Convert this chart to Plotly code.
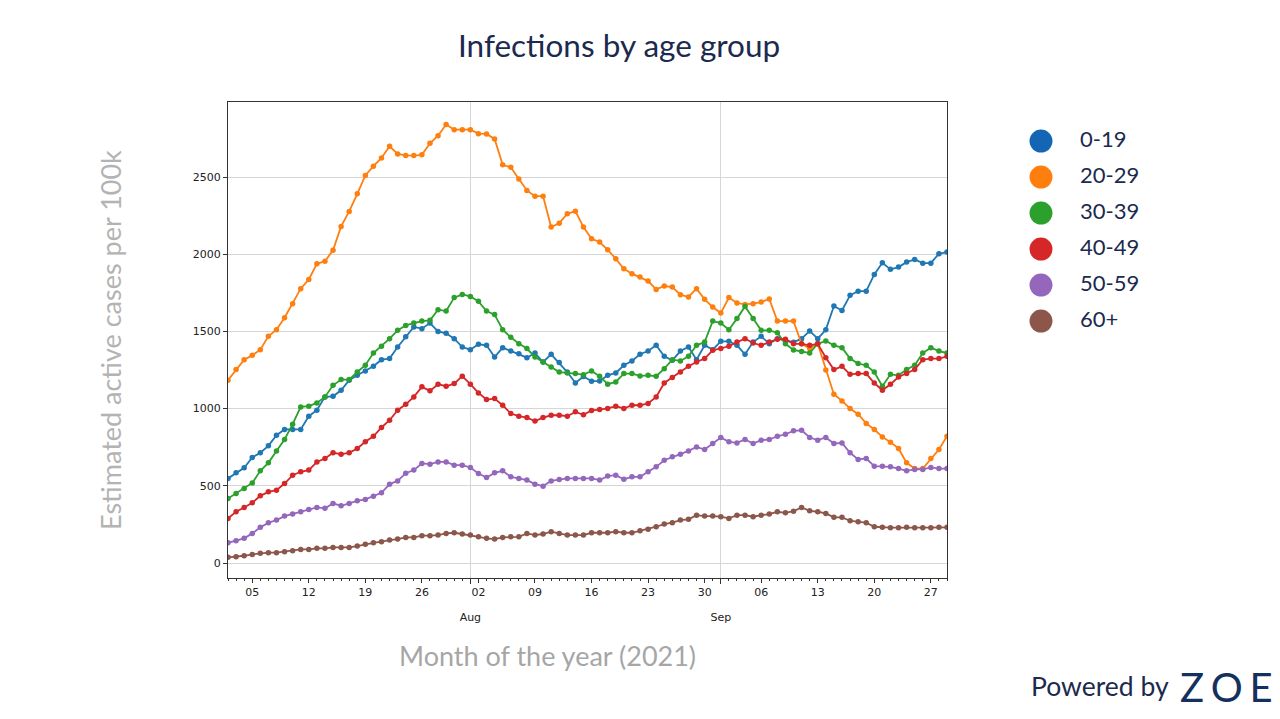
import pandas as pd
import plotly.graph_objects as go

# ---------------- data ----------------
start_date = "2021-07-02"
n_days = 90
dates = pd.date_range(start_date, periods=n_days, freq="D")

groups = ["0-19", "20-29", "30-39", "40-49", "50-59", "60+"]

age_0_19 = [548, 584, 617, 684, 714, 759, 828, 865, 865, 865,
            951, 990, 1076, 1080, 1119, 1184, 1216, 1244, 1274, 1317,
            1324, 1399, 1465, 1529, 1518, 1554, 1500, 1488, 1453, 1399,
            1382, 1417, 1410, 1334, 1395, 1373, 1356, 1330, 1360, 1302,
            1352, 1298, 1237, 1166, 1208, 1178, 1179, 1216, 1231, 1281,
            1309, 1352, 1373, 1410, 1339, 1313, 1373, 1399, 1317, 1410,
            1382, 1436, 1436, 1410, 1352, 1431, 1468, 1421, 1453, 1440,
            1430, 1453, 1503, 1453, 1511, 1665, 1636, 1734, 1761, 1761,
            1869, 1945, 1902, 1917, 1949, 1966, 1942, 1942, 2003, 2014]

age_20_29 = [1184, 1253, 1317, 1345, 1382, 1468, 1511, 1589, 1680, 1777,
             1837, 1938, 1955, 2025, 2180, 2277, 2391, 2510, 2570, 2624,
             2699, 2650, 2640, 2639, 2644, 2719, 2768, 2840, 2807, 2807,
             2807, 2781, 2779, 2747, 2579, 2563, 2488, 2413, 2376, 2376,
             2176, 2201, 2262, 2279, 2176, 2100, 2079, 2029, 1971, 1906,
             1874, 1852, 1826, 1772, 1794, 1787, 1738, 1723, 1777, 1708,
             1658, 1619, 1719, 1684, 1675, 1680, 1690, 1710, 1567, 1567,
             1567, 1420, 1390, 1420, 1250, 1093, 1050, 1001, 964, 904,
             865, 817, 783, 742, 649, 612, 612, 677, 735, 821]

age_30_39 = [418, 451, 483, 519, 597, 649, 726, 800, 899, 1011,
             1016, 1037, 1076, 1151, 1188, 1188, 1237, 1281, 1360, 1404,
             1453, 1507, 1539, 1554, 1567, 1572, 1641, 1632, 1719, 1740,
             1727, 1695, 1632, 1609, 1511, 1462, 1421, 1389, 1334, 1302,
             1270, 1237, 1231, 1227, 1220, 1244, 1210, 1158, 1173, 1227,
             1227, 1212, 1216, 1210, 1259, 1317, 1309, 1339, 1410, 1431,
             1567, 1554, 1511, 1583, 1662, 1583, 1507, 1507, 1492, 1420,
             1380, 1370, 1360, 1420, 1438, 1410, 1395, 1324, 1292, 1281,
             1237, 1145, 1222, 1216, 1253, 1281, 1360, 1395, 1373, 1360]

age_40_49 = [289, 332, 360, 390, 435, 461, 472, 515, 569, 591,
             602, 655, 677, 714, 705, 714, 742, 785, 821, 878,
             925, 990, 1028, 1076, 1141, 1115, 1158, 1145, 1162, 1210,
             1158, 1102, 1059, 1065, 1022, 968, 951, 942, 920, 942,
             957, 957, 951, 979, 960, 988, 994, 1001, 1016, 1001,
             1022, 1022, 1033, 1076, 1166, 1201, 1237, 1274, 1302, 1324,
             1378, 1389, 1404, 1431, 1453, 1425, 1410, 1431, 1450, 1450,
             1420, 1420, 1410, 1420, 1330, 1253, 1274, 1222, 1227, 1227,
             1166, 1119, 1158, 1205, 1227, 1253, 1317, 1324, 1324, 1339]

age_50_59 = [131, 144, 160, 192, 231, 261, 278, 304, 317, 332,
             347, 360, 354, 386, 371, 386, 403, 412, 433, 455,
             511, 532, 582, 602, 645, 640, 655, 655, 634, 634,
             619, 580, 554, 584, 597, 558, 548, 537, 511, 498,
             532, 541, 548, 548, 548, 548, 537, 563, 569, 543,
             558, 558, 591, 623, 666, 688, 705, 726, 752, 735,
             774, 813, 785, 778, 800, 774, 796, 800, 821, 834,
             856, 860, 813, 796, 813, 774, 778, 714, 671, 677,
             627, 627, 623, 612, 597, 606, 606, 619, 612, 612]

age_60_plus = [37, 41, 47, 56, 63, 67, 67, 73, 80, 88,
               88, 95, 95, 101, 101, 101, 110, 121, 131, 138,
               149, 155, 166, 166, 177, 177, 181, 192, 196, 188,
               181, 170, 160, 155, 166, 170, 170, 192, 181, 188,
               203, 192, 181, 181, 181, 196, 196, 196, 203, 196,
               196, 209, 218, 235, 252, 261, 278, 283, 310, 304,
               304, 300, 289, 310, 310, 300, 310, 317, 332, 325,
               336, 360, 338, 332, 321, 296, 296, 274, 267, 261,
               235, 231, 229, 229, 231, 229, 229, 229, 231, 231]

series = [age_0_19, age_20_29, age_30_39, age_40_49, age_50_59, age_60_plus]

y_ticks = [0, 500, 1000, 1500, 2000, 2500]
weekly_tick_start = "2021-07-05"

title_text = "Infections by age group"
y_title = "Estimated active cases per 100k"
x_title = "Month of the year (2021)"

# ---------------- styles / layout helpers ----------------
line_colors = ["#1f77b4", "#ff7f0e", "#2ca02c", "#d62728", "#9467bd", "#8c564b"]
legend_colors = ["#1565b5", "#ff7f0e", "#2ca02c", "#d62728", "#9467bd", "#8c564b"]
navy = "#1b2a4e"

# the page body has an 8px margin; the figure fills the rest of the window
OFF = 8
W, H = 1280 - 2 * OFF, 719 - 2 * OFF


def fx(px):
    return (px - OFF) / W


def fy(py):
    return 1 - (py - OFF) / H


month_starts = [d for d in dates if d.day == 1]
month_labels = [d.strftime("%b") for d in month_starts]

fig = go.Figure()
for i, (name, vals, col) in enumerate(zip(groups, series, line_colors)):
    fig.add_trace(go.Scatter(
        x=dates, y=vals, name=name, mode="lines+markers",
        line=dict(color=col, width=1.8),
        marker=dict(size=5.5, color=col),
        # first series on the weekly axis, the rest on the (matching) month axis
        xaxis="x" if i == 0 else "x2", yaxis="y",
    ))

# custom legend drawn on its own small axis
idx = list(range(len(groups)))
fig.add_trace(go.Scatter(
    x=[0] * len(groups), y=idx, mode="markers",
    marker=dict(size=23, color=legend_colors),
    xaxis="x3", yaxis="y3", hoverinfo="skip",
))
fig.add_trace(go.Scatter(
    x=[1] * len(groups), y=idx, mode="text", text=groups,
    textposition="middle right",
    textfont=dict(family="Lato", size=22, color=navy),
    xaxis="x3", yaxis="y3", hoverinfo="skip",
))

tick_font = dict(family="DejaVu Sans", size=11, color="#222222")
axis_col = "#333333"
grid_col = "#d6d6d6"

fig.update_layout(
    width=W, height=H,
    margin=dict(l=0, r=0, t=0, b=0),
    paper_bgcolor="white", plot_bgcolor="white",
    showlegend=False,
    xaxis=dict(
        domain=[fx(228), fx(947)], anchor="y", type="date",
        range=[dates[0], dates[-1]],
        tick0=weekly_tick_start, dtick=7 * 86400000, tickformat="%d",
        ticks="outside", ticklen=4, tickcolor=axis_col, tickwidth=1,
        showgrid=False, zeroline=False,
        showline=True, linecolor=axis_col, linewidth=1, mirror=True,
        tickfont=tick_font,
        minor=dict(dtick=86400000, ticks="outside", ticklen=2,
                   tickcolor=axis_col, showgrid=False),
    ),
    xaxis2=dict(
        overlaying="x", matches="x", anchor="y", side="bottom", type="date",
        tickmode="array", tickvals=month_starts, ticktext=month_labels,
        ticks="outside", ticklen=5, tickcolor=axis_col,
        showgrid=True, gridcolor=grid_col, gridwidth=1,
        showline=False, zeroline=False,
        ticklabelstandoff=24,
        tickfont=tick_font,
    ),
    yaxis=dict(
        domain=[fy(578), fy(102)], anchor="x",
        range=[-97, 2986],
        tickmode="array", tickvals=y_ticks,
        ticks="outside", ticklen=4, tickcolor=axis_col,
        showgrid=True, gridcolor=grid_col, gridwidth=1, zeroline=False,
        showline=True, linecolor=axis_col, linewidth=1, mirror=True,
        tickfont=tick_font,
    ),
    xaxis3=dict(domain=[fx(1000), fx(1250)], range=[-1.051, 5.359],
                visible=False, anchor="y3", fixedrange=True),
    yaxis3=dict(domain=[fy(342), fy(122)], range=[5.583, -0.528],
                visible=False, anchor="x3", fixedrange=True),
    annotations=[
        dict(text=title_text, x=fx(619), y=fy(45), xref="paper", yref="paper",
             xanchor="center", yanchor="middle", showarrow=False,
             font=dict(family="Lato", size=31.5, color=navy)),
        dict(text=y_title, x=fx(110), y=fy(340), xref="paper", yref="paper",
             xanchor="center", yanchor="middle", showarrow=False, textangle=-90,
             font=dict(family="Lato", size=27, color="#b3b3b3")),
        dict(text=x_title, x=fx(547), y=fy(655), xref="paper", yref="paper",
             xanchor="center", yanchor="middle", showarrow=False,
             font=dict(family="Lato", size=27, color="#a6a6a6")),
        dict(text="Powered by", x=fx(1029), y=fy(686), xref="paper", yref="paper",
             xanchor="left", yanchor="middle", showarrow=False,
             font=dict(family="Lato", size=26.5, color=navy)),
        dict(text="Z\u2006O\u2006E", x=fx(1178), y=fy(687), xref="paper", yref="paper",
             xanchor="left", yanchor="middle", showarrow=False,
             font=dict(family="Lato", size=40, color="#14305e")),
    ],
)

fig.write_html("out.html")
